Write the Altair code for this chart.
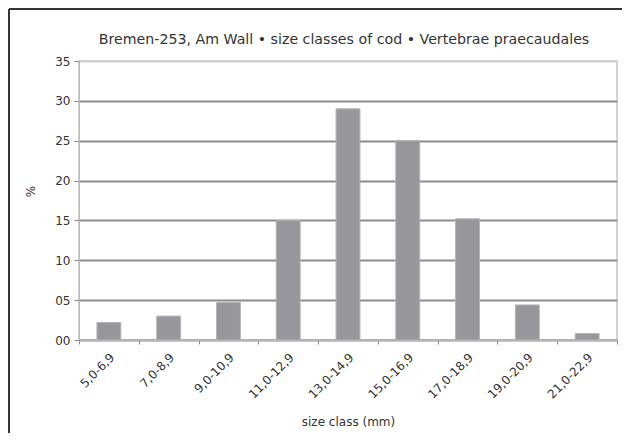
import altair as alt
import pandas as pd

categories = ["5,0-6,9", "7,0-8,9", "9,0-10,9", "11,0-12,9", "13,0-14,9",
              "15,0-16,9", "17,0-18,9", "19,0-20,9", "21,0-22,9"]
percent = [2.2, 3.0, 4.7, 15.0, 29.0, 25.0, 15.2, 4.4, 0.8]
y_ticks = [0, 5, 10, 15, 20, 25, 30, 35]

df = pd.DataFrame({"size_class": categories, "pct": percent})

FONT = "DejaVu Sans"
W, H = 538, 279
PAD_L, PAD_T = 71, 53
CANVAS_H = 425

bars = alt.Chart(df).mark_bar(
    color="#97979b", stroke="#b4b4b8", strokeWidth=1,
    width=alt.RelativeBandSize(0.4)
).encode(
    x=alt.X("size_class:N", sort=categories,
            scale=alt.Scale(paddingInner=0, paddingOuter=0),
            axis=alt.Axis(title="size class (mm)", labelAngle=-45,
                          labelAlign="right", labelBaseline="middle",
                          labelOffset=3,
                          tickBand="extent", grid=False,
                          domainColor="#b8b8b8", tickColor="#8a8a8a",
                          tickSize=4, labelPadding=11, titlePadding=16)),
    y=alt.Y("pct:Q", scale=alt.Scale(domain=[0, 35], nice=False),
            axis=alt.Axis(title="%", values=y_ticks, format="02d",
                          gridColor=alt.condition("datum.value == 35",
                                                  alt.value("#cfcfcf"),
                                                  alt.value("#8c8c8c")),
                          gridWidth=1.8, domainColor="#b8b8b8",
                          tickColor="#8a8a8a", tickSize=5,
                          labelPadding=4, titlePadding=17, titleY=130)),
)

frame_left = alt.Chart(df).mark_rule(color="#333333", strokeWidth=2).encode(
    x=alt.value(-PAD_L + 1), y=alt.value(-PAD_T + 1), y2=alt.value(CANVAS_H - PAD_T))
frame_top = alt.Chart(df).mark_rule(color="#333333", strokeWidth=2).encode(
    x=alt.value(-PAD_L + 1), x2=alt.value(W + 5), y=alt.value(-PAD_T + 1))

chart = alt.layer(bars, frame_left, frame_top).properties(
    width=W, height=H,
    title=alt.TitleParams(
        "Bremen-253, Am Wall \u2022 size classes of cod \u2022 Vertebrae praecaudales",
        fontSize=14.2, font=FONT, fontWeight="normal", color="#333333",
        anchor="middle", frame="group", offset=0, baseline="bottom", dy=53, dx=-4),
    autosize=alt.AutoSizeParams(type="none"),
    padding={"left": PAD_L, "top": PAD_T, "right": 5, "bottom": CANVAS_H - PAD_T - H},
).configure_view(
    stroke="#c4c4c4", strokeWidth=1.5
).configure_axis(
    labelFont=FONT, titleFont=FONT, labelFontSize=12, titleFontSize=12,
    labelColor="#333333", titleColor="#333333", titleFontWeight="normal"
)

chart.save("out.html", embed_options={"renderer": "svg", "actions": False})
